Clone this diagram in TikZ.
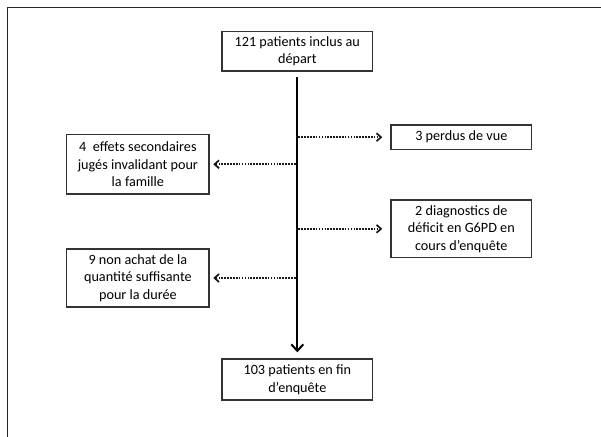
\documentclass[tikz,border=0pt]{standalone}
\usepackage{fontspec}
\setmainfont{Carlito}
\usepackage{xcolor}
\usepackage{tikz}
\usetikzlibrary{arrows.meta, positioning, calc}

\begin{document}
\begin{tikzpicture}[
    x=1pt, y=-1pt,
    every node/.style={font=\fontsize{14.2}{17.5}\selectfont, text=black},
    flowbox/.style={draw=black!80, line width=1.4pt, align=center, inner sep=1pt},
    mainarrow/.style={-{Straight Barb[length=6.5pt, width=12pt, line width=2pt]}, line width=2.3pt, draw=black},
    exitarrow/.style={-{Straight Barb[length=4.5pt, width=8pt, line width=1.7pt]}, line width=1.8pt, dash pattern=on 1.6pt off 1.3pt, draw=black!90}
]

    % Frame
    \useasboundingbox (0,0) rectangle (601,436);
    \draw[line width=1.5pt, black!85] (7.5,440) -- (7.5,7.5) -- (605,7.5);

    % Main flow
    \node[flowbox, minimum width=150.5pt, minimum height=39.7pt] (start) at (297.3,51.2) {121 patients inclus au\\départ};
    \node[flowbox, minimum width=150.5pt, minimum height=41pt] (finish) at (297.3,379.5) {103 patients en fin\\d’enquête};

    \draw[mainarrow, shorten <=5pt, shorten >=6pt] (start) -- (finish);

    % Exits
    \node[flowbox, minimum width=140.6pt, minimum height=24.3pt] (lost) at (461.3,137.2) {3 perdus de vue};
    \node[flowbox, minimum width=142.3pt, minimum height=59.3pt] (sidefx) at (137.9,164.3) {4~~effets secondaires\\jugés invalidant pour\\la famille};
    \node[flowbox, minimum width=140.6pt, minimum height=57.7pt] (diag) at (461.3,228.8) {2 diagnostics de\\déficit en G6PD en\\cours d’enquête};
    \node[flowbox, minimum width=142.3pt, minimum height=58pt] (nobuy) at (137.9,278) {9 non achat de la\\quantité suffisante\\pour la durée};

    \draw[exitarrow, shorten >=8pt] ($(start.south |- lost.west)+(-1.8,0)$) -- (lost.west);
    \draw[exitarrow, shorten >=3.5pt] ($(start.south |- sidefx.east)+(-1.8,0)$) -- (sidefx.east);
    \draw[exitarrow, shorten >=8pt] ($(start.south |- diag.west)+(-1.8,0)$) -- (diag.west);
    \draw[exitarrow, shorten >=3.5pt] ($(start.south |- nobuy.east)+(-1.8,0)$) -- (nobuy.east);

\end{tikzpicture}
\end{document}
